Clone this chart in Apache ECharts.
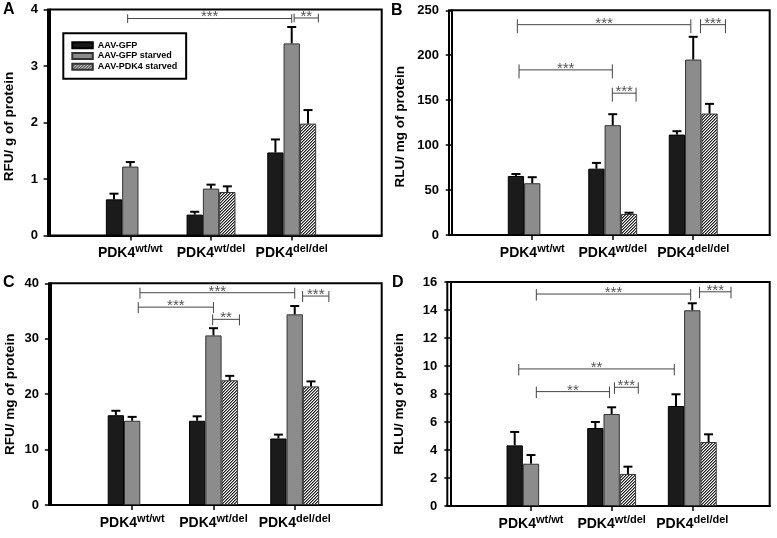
<!DOCTYPE html>
<html><head><meta charset="utf-8">
<script src="https://cdn.jsdelivr.net/npm/echarts@6/dist/echarts.min.js"></script>
<style>html,body{margin:0;padding:0;background:#fff}#c{width:777px;height:538px}</style>
</head><body><div id="c"></div>
<script>
// ---------- data ----------
const categories = ['wt/wt', 'wt/del', 'del/del'];
const catX = [1, 2, 3];
const seriesNames = ['AAV-GFP', 'AAV-GFP starved', 'AAV-PDK4 starved'];

// Panel A  (RFU/ g of protein)
const aGfp = [0.64, 0.37, 1.47];
const aGfpStarved = [1.22, 0.83, 3.40];
const aPdk4Starved = [null, 0.77, 1.98];
const aGfpSem = [0.10, 0.05, 0.23];
const aGfpStarvedSem = [0.08, 0.07, 0.29];
const aPdk4StarvedSem = [null, 0.10, 0.24];
const aTicks = [0, 1, 2, 3, 4];
const aBrackets = [[0.967, 3.0, 3.84, '***'], [3.03, 3.33, 3.85, '**']];

// Panel B  (RLU/ mg of protein)
const bGfp = [65.7, 73.8, 111.7];
const bGfpStarved = [57.6, 122.2, 195.2];
const bPdk4Starved = [null, 23.4, 135.1];
const bGfpSem = [2.2, 6.4, 3.8];
const bGfpStarvedSem = [6.7, 12.2, 25.3];
const bPdk4StarvedSem = [null, 1.4, 10.8];
const bTicks = [0, 50, 100, 150, 200, 250];
const bBrackets = [[0.815, 2.97, 234, '***'], [3.09, 3.40, 234, '***'], [0.836, 1.995, 183.7, '***'], [1.995, 2.29, 157.8, '***']];

// Panel C  (RFU/ mg of protein)
const cGfp = [16.2, 15.2, 12.0];
const cGfpStarved = [15.2, 30.6, 34.4];
const cPdk4Starved = [null, 22.5, 21.4];
const cGfpSem = [0.8, 0.8, 0.7];
const cGfpStarvedSem = [0.7, 1.3, 1.5];
const cPdk4StarvedSem = [null, 0.8, 0.9];
const cTicks = [0, 10, 20, 30, 40];
const cBrackets = [[1.096, 3.0, 38.3, '***'], [1.075, 2.0, 35.7, '***'], [1.99, 2.32, 33.5, '**'], [3.097, 3.42, 37.7, '***']];

// Panel D  (RLU/ mg of protein)
const dGfp = [4.33, 5.57, 7.14];
const dGfpStarved = [3.02, 6.57, 13.98];
const dPdk4Starved = [null, 2.29, 4.57];
const dGfpSem = [0.96, 0.43, 0.84];
const dGfpStarvedSem = [0.62, 0.48, 0.50];
const dPdk4StarvedSem = [null, 0.52, 0.55];
const dTicks = [0, 2, 4, 6, 8, 10, 12, 14, 16];
const dBrackets = [[1.066, 2.98, 15.14, '***'], [3.09, 3.48, 15.3, '***'], [0.848, 2.777, 9.79, '**'], [1.066, 1.973, 8.17, '**'], [2.035, 2.33, 8.48, '***']];

const yNames = ['RFU/ g of protein', 'RLU/ mg of protein', 'RFU/ mg of protein', 'RLU/ mg of protein'];
const panelLetters = ['A', 'B', 'C', 'D'];

// ---------- layout / style ----------
const FONT = "'Liberation Sans', Arial, sans-serif";
const BW = 16.3;
const panels = [
  {means: [aGfp, aGfpStarved, aPdk4Starved], sems: [aGfpSem, aGfpStarvedSem, aPdk4StarvedSem], ticks: aTicks, brackets: aBrackets,
   grid: {left: 48, top: 9.5, width: 333.7, height: 226}, xr: [-0.02, 4.115], nameGap: 32, nameShift: 4, bt: [4.3, 4.4], letter: [3, 2]},
  {means: [bGfp, bGfpStarved, bPdk4Starved], sems: [bGfpSem, bGfpStarvedSem, bPdk4StarvedSem], ticks: bTicks, brackets: bBrackets,
   grid: {left: 449, top: 10.3, width: 320.7, height: 224.7}, xr: [-0.034, 3.95], nameGap: 42, nameShift: 4, bt: [5.5, 8.5], letter: [391, 3]},
  {means: [cGfp, cGfpStarved, cPdk4Starved], sems: [cGfpSem, cGfpStarvedSem, cPdk4StarvedSem], ticks: cTicks, brackets: cBrackets,
   grid: {left: 49, top: 283.3, width: 332.7, height: 221.7}, xr: [-0.023, 4.07], nameGap: 32, nameShift: 0, bt: [5, 6], letter: [3, 275]},
  {means: [dGfp, dGfpStarved, dPdk4Starved], sems: [dGfpSem, dGfpStarvedSem, dPdk4StarvedSem], ticks: dTicks, brackets: dBrackets,
   grid: {left: 447.3, top: 282, width: 322.4, height: 224}, xr: [-0.038, 3.96], nameGap: 41, nameShift: 0, bt: [5, 6.5], letter: [392, 275]}
];

// hatch tile: "/" stripes
function makeHatch() {
  const n = 3;
  const cv = document.createElement('canvas');
  cv.width = n; cv.height = n;
  const g = cv.getContext('2d');
  g.fillStyle = '#ffffff'; g.fillRect(0, 0, n, n);
  for (let y = 0; y < n; y++) {
    g.fillStyle = '#1e1e1e'; g.fillRect((n - 1 - y) % n, y, 1, 1);
    g.fillStyle = '#8a8a8a'; g.fillRect((n - y) % n, y, 1, 1);
  }
  return {image: cv, repeat: 'repeat'};
}
const hatch = makeHatch();

const barStyles = [
  {color: '#1b1b1b', borderColor: '#000', borderWidth: 1},
  {color: '#8c8c8c', borderColor: '#333', borderWidth: 1},
  {color: hatch, borderColor: '#333', borderWidth: 1}
];

const grids = [], xAxes = [], yAxes = [], series = [], graphics = [];

panels.forEach((p, i) => {
  grids.push(Object.assign({show: true, borderColor: '#000', borderWidth: 2, backgroundColor: '#fff', containLabel: false}, p.grid));
  xAxes.push({
    type: 'value', gridIndex: i, min: p.xr[0], max: p.xr[1],
    axisLine: {onZero: false, lineStyle: {color: '#000', width: 2}},
    axisTick: {show: true, customValues: catX, length: 5, lineStyle: {color: '#000', width: 1.5}},
    splitLine: {show: false},
    axisLabel: {
      customValues: catX, margin: 8,
      formatter: v => '{m|PDK4}{s|' + categories[Math.round(v) - 1] + '}',
      rich: {
        m: {fontSize: 14, fontWeight: 'bold', fontFamily: FONT, color: '#000', verticalAlign: 'bottom'},
        s: {fontSize: 11, fontWeight: 'bold', fontFamily: FONT, color: '#000', verticalAlign: 'bottom', padding: [0, 0, 6, 0]}
      }
    }
  });
  const t = p.ticks;
  yAxes.push({
    type: 'value', gridIndex: i, min: t[0], max: t[t.length - 1], interval: t[1] - t[0],
    name: yNames[i], nameLocation: 'middle', nameGap: p.nameGap,
    nameTextStyle: {fontSize: 13.5, fontWeight: 'bold', fontFamily: FONT, color: '#000', padding: [0, p.nameShift * 2, 0, 0]},
    axisLine: {show: true, lineStyle: {color: '#000', width: 2}},
    axisTick: {show: true, length: 6, lineStyle: {color: '#000', width: 1.5}},
    splitLine: {show: false},
    axisLabel: {fontSize: 13, fontWeight: 'bold', fontFamily: FONT, color: '#000', margin: 10}
  });
  for (let k = 0; k < 3; k++) {
    series.push({
      type: 'bar', name: seriesNames[k], xAxisIndex: i, yAxisIndex: i,
      barWidth: BW, barGap: '0%',
      data: catX.map((x, j) => [x, p.means[k][j]]),
      itemStyle: barStyles[k], z: 2, silent: true
    });
  }
  const errData = [];
  for (let k = 0; k < 3; k++) {
    catX.forEach((x, j) => {
      if (p.means[k][j] != null) errData.push([x, p.means[k][j], p.sems[k][j], k - 1]);
    });
  }
  series.push({
    type: 'custom', xAxisIndex: i, yAxisIndex: i, z: 3, silent: true,
    encode: {x: 0, y: 1},
    data: errData,
    renderItem: (params, api) => {
      const x = api.value(0), m = api.value(1), s = api.value(2), o = api.value(3);
      const base = api.coord([x, m]);
      const top = api.coord([x, m + s]);
      const cx = base[0] + o * BW;
      return {type: 'group', children: [
        {type: 'line', shape: {x1: cx, y1: base[1], x2: cx, y2: top[1]}, style: {stroke: '#000', lineWidth: 2}},
        {type: 'line', shape: {x1: cx - 4.5, y1: top[1], x2: cx + 4.5, y2: top[1]}, style: {stroke: '#000', lineWidth: 2}}
      ]};
    }
  });
  const br = p.brackets;
  series.push({
    type: 'custom', xAxisIndex: i, yAxisIndex: i, z: 4, silent: true,
    encode: {x: [0, 1], y: 2},
    data: br.map(b => [b[0], b[1], b[2]]),
    renderItem: (params, api) => {
      const a = api.coord([api.value(0), api.value(2)]);
      const b = api.coord([api.value(1), api.value(2)]);
      const up = p.bt[0], dn = p.bt[1];
      const col = '#444';
      return {type: 'group', children: [
        {type: 'line', shape: {x1: a[0], y1: a[1], x2: b[0], y2: b[1]}, style: {stroke: col, lineWidth: 1}},
        {type: 'line', shape: {x1: a[0], y1: a[1] - up, x2: a[0], y2: a[1] + dn}, style: {stroke: col, lineWidth: 1}},
        {type: 'line', shape: {x1: b[0], y1: b[1] - up, x2: b[0], y2: b[1] + dn}, style: {stroke: col, lineWidth: 1}},
        {type: 'text', x: (a[0] + b[0]) / 2, y: a[1] + 6.3,
         style: {text: br[params.dataIndex][3], align: 'center', verticalAlign: 'bottom', fill: '#555', font: '15px ' + FONT}}
      ]};
    }
  });
  graphics.push({type: 'text', left: p.letter[0], top: p.letter[1],
    style: {text: panelLetters[i], font: 'bold 16px ' + FONT, fill: '#000'}});
});

const chart = echarts.init(document.getElementById('c'), null, {renderer: 'canvas'});
chart.setOption({
  animation: false,
  backgroundColor: '#fff',
  textStyle: {fontFamily: FONT},
  grid: grids,
  xAxis: xAxes,
  yAxis: yAxes,
  legend: {
    data: seriesNames, orient: 'vertical', left: 63.3, top: 33.3,
    icon: 'rect', itemWidth: 20.5, itemHeight: 6, itemGap: 1.7,
    padding: [7.5, 9, 7.5, 8], borderColor: '#000', borderWidth: 2, backgroundColor: '#fff',
    selectedMode: false,
    textStyle: {fontSize: 9, fontWeight: 'bold', fontFamily: FONT, color: '#000'}
  },
  graphic: graphics,
  series: series
});
</script>
</body></html>
